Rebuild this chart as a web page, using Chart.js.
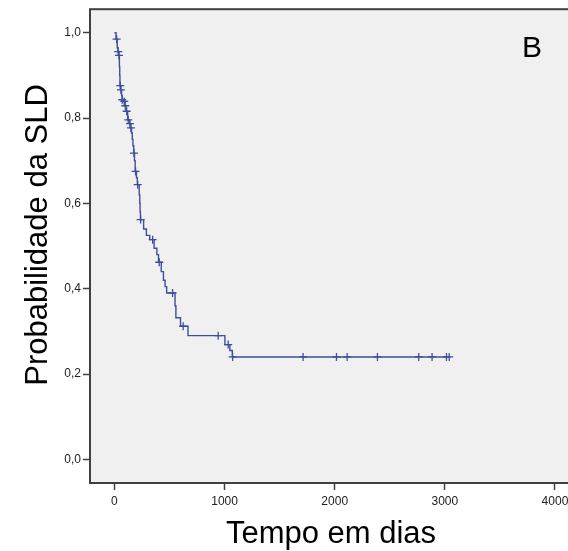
<!DOCTYPE html>
<html>
<head>
<meta charset="utf-8">
<script src="https://cdn.jsdelivr.net/npm/chart.js@4.4.1/dist/chart.umd.min.js"></script>
<style>
  html, body { margin: 0; padding: 0; background: #ffffff; overflow: hidden; }
  #wrap { width: 600px; height: 551px; }
</style>
</head>
<body>
<div id="wrap"><canvas id="kmChart" width="600" height="551"></canvas></div>
<script>
  // Kaplan-Meier steps: day of each drop and survival after it
  var stepDays = [0, 14, 25, 32, 40, 45, 48, 50, 56, 65, 70, 85, 95, 105, 120, 135, 145, 155, 162, 168,
    175, 182, 188, 200, 208, 225, 230, 233, 236, 265, 290, 320, 360, 385, 400, 425, 445, 460, 474, 550,
    558, 600, 668, 1003, 1048, 1070, 3040];
  var survival = [1.0, 0.985, 0.965, 0.956, 0.947, 0.92, 0.90, 0.876, 0.866, 0.853, 0.843, 0.839, 0.829, 0.816, 0.796, 0.787, 0.777, 0.765, 0.75, 0.735,
    0.718, 0.70, 0.675, 0.66, 0.644, 0.62, 0.60, 0.58, 0.562, 0.54, 0.525, 0.515, 0.495, 0.48, 0.462, 0.44, 0.42, 0.405, 0.39, 0.36,
    0.332, 0.312, 0.29, 0.269, 0.255, 0.24, 0.24];

  // censored cases (days)
  var censoredDays = [20, 34, 41, 53, 59, 71, 89, 98, 111, 125, 141, 150, 177, 192, 211, 238, 347, 407, 528, 624,
    942, 1033, 1073, 1713, 2016, 2113, 2388, 2763, 2884, 3015, 3040];

  var xTicks = [0, 1000, 2000, 3000, 4000];
  var yTicks = [0.0, 0.2, 0.4, 0.6, 0.8, 1.0];

  var lineColor = '#3d4f9b';
  var tickFont = { family: "'Liberation Sans', Arial, sans-serif", size: 12 };

  // survival value at a given day (from the step table)
  function survivalAt(day) {
    var s = survival[0];
    for (var i = 0; i < stepDays.length; i++) {
      if (stepDays[i] <= day) s = survival[i];
    }
    return s;
  }

  var curvePoints = stepDays.map(function (d, i) { return { x: d, y: survival[i] }; });
  var censorPoints = censoredDays.map(function (d) { return { x: d, y: survivalAt(d) }; });

  // plot background, frame and the text labels
  var framePlugin = {
    id: 'frame',
    beforeDatasetsDraw: function (chart) {
      var a = chart.chartArea, ctx = chart.ctx;
      ctx.save();
      ctx.fillStyle = '#f0f0f0';
      ctx.fillRect(a.left, a.top, a.right - a.left, a.bottom - a.top);
      ctx.restore();
    },
    afterDraw: function (chart) {
      var a = chart.chartArea, ctx = chart.ctx;
      ctx.save();
      ctx.strokeStyle = '#404040';
      ctx.lineWidth = 2;
      ctx.strokeRect(a.left, a.top, a.right - a.left, a.bottom - a.top);

      ctx.fillStyle = '#000000';
      ctx.textBaseline = 'alphabetic';
      ctx.textAlign = 'center';
      ctx.font = "31px 'Liberation Sans', Arial, sans-serif";
      ctx.fillText('Tempo em dias', 331, 543);

      ctx.translate(47, 235);
      ctx.rotate(-Math.PI / 2);
      ctx.fillText('Probabilidade da SLD', 0, 0);
      ctx.restore();

      ctx.save();
      ctx.fillStyle = '#000000';
      ctx.textAlign = 'center';
      ctx.textBaseline = 'alphabetic';
      ctx.font = "30px 'Liberation Sans', Arial, sans-serif";
      ctx.fillText('B', 532, 57);
      ctx.restore();
    }
  };

  var ctx = document.getElementById('kmChart').getContext('2d');
  var kmChart = new Chart(ctx, {
    type: 'line',
    data: {
      datasets: [{
        data: curvePoints,
        borderColor: lineColor,
        borderWidth: 1.4,
        stepped: 'before',
        pointRadius: 0,
        fill: false
      }, {
        type: 'scatter',
        data: censorPoints,
        pointStyle: 'cross',
        pointRadius: 4,
        borderColor: lineColor,
        backgroundColor: lineColor,
        pointBorderWidth: 1.3,
        showLine: false
      }]
    },
    options: {
      responsive: false,
      animation: false,
      devicePixelRatio: 1,
      layout: { padding: { left: 0, top: 9, right: 12, bottom: 0 } },
      plugins: { legend: { display: false }, tooltip: { enabled: false } },
      scales: {
        x: {
          type: 'linear',
          min: -222,
          max: 4300,
          afterFit: function (scale) { scale.height = 68; },
          afterBuildTicks: function (scale) {
            scale.ticks = xTicks.map(function (v) { return { value: v }; });
          },
          grid: { drawOnChartArea: false, tickLength: 7, tickColor: '#404040', tickWidth: 1.5 },
          border: { display: false },
          ticks: {
            font: tickFont,
            color: '#222222',
            padding: 4,
            maxRotation: 0,
            callback: function (v) { return String(v); }
          }
        },
        y: {
          type: 'linear',
          min: -0.0555,
          max: 1.0553,
          afterFit: function (scale) { scale.width = 90; },
          afterBuildTicks: function (scale) {
            scale.ticks = yTicks.map(function (v) { return { value: v }; });
          },
          grid: { drawOnChartArea: false, tickLength: 7, tickColor: '#404040', tickWidth: 1.5 },
          border: { display: false },
          ticks: {
            font: tickFont,
            color: '#222222',
            padding: 2,
            callback: function (v) { return v.toFixed(1).replace('.', ','); }
          }
        }
      }
    },
    plugins: [framePlugin]
  });
</script>
</body>
</html>
